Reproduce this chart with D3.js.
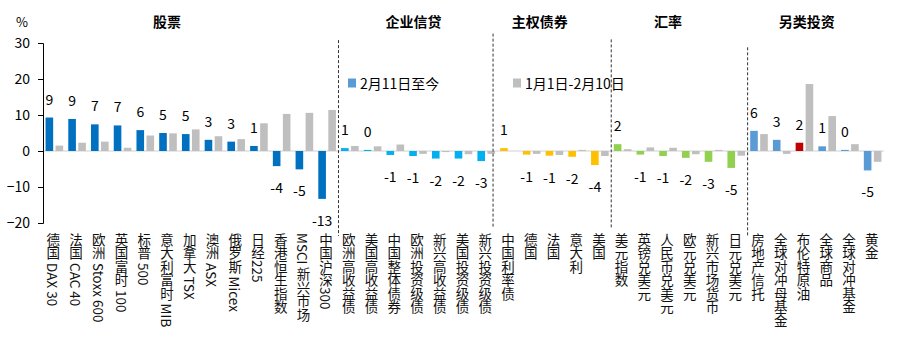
<!DOCTYPE html>
<html><head><meta charset="utf-8">
<script src="https://cdn.jsdelivr.net/npm/d3@7/dist/d3.min.js"></script>
<style>
html,body{margin:0;padding:0;background:#fff;}
svg{display:block;font-family:"Noto Sans CJK SC","Noto Sans",sans-serif;}
</style></head>
<body>
<svg id="chart" width="923" height="356"></svg>
<script>
const categories = ["德国 DAX 30","法国 CAC 40","欧洲 Stoxx 600","英国富时 100","标普 500","意大利富时 MIB","加拿大 TSX","澳洲 ASX","俄罗斯 Micex","日经225","香港恒生指数","MSCI 新兴市场","中国沪深300",
"欧洲高收益债","美国高收益债","中国整体债券","欧洲投资级债","新兴高收益债","美国投资级债","新兴投资级债",
"中国利率债","德国","法国","意大利","美国",
"美元指数","英镑兑美元","人民币兑美元","欧元兑美元","新兴市场货币","日元兑美元",
"房地产信托","全球对冲母基金","布伦特原油","全球商品","全球对冲基金","黄金"];
const seriesNames = ["2月11日至今","1月1日-2月10日"];
const recent = [9.3,8.9,7.4,7.1,5.8,5.0,4.7,3.1,2.6,1.4,-4.2,-5.1,-13.3,
  0.8,0.3,-1.1,-1.4,-2.1,-2.1,-2.8,
  0.8,-1.0,-1.3,-1.6,-3.9,
  1.9,-1.0,-1.4,-1.9,-3.0,-4.7,
  5.6,3.1,2.3,1.3,0.3,-5.4];
const earlier = [1.5,2.3,2.6,0.9,4.3,4.9,6.0,4.1,3.3,7.7,10.3,10.6,11.4,
  1.4,1.3,1.8,-0.8,-0.3,-0.9,-0.8,
  0,-0.8,-1.1,0.3,-1.4,
  0.5,1.0,0.9,-0.9,0.3,-1.3,
  4.7,-0.8,18.6,9.7,1.9,-3.0];
const groupNames = ["股票","企业信贷","主权债券","汇率","另类投资"];
const groupSizes = [13,7,5,6,6];
const groupColors = ["#0070C0","#00B0F0","#FFC000","#92D050","#5B9BD5"];
const yTicks = [-20,-10,0,10,20,30];
const specialColors = {"布伦特原油":"#C00000"};
const grayColor = "#BFBFBF";

// layout (not data)
const M = {left:43, right:884, top:43, bottom:223};
const titleAt = [5.46,16.3,21.85,27.5,33.6];      // in category units
const dividerAt = [13,19.8,25,31];                 // in category units
const dividerTop = [30.8,32.6,31,28.8];            // in y-value units
const dividerBot = [-23.6,-21.4,-21.4,-23.6];

const svg = d3.select("#chart");
const x = d3.scaleBand().domain(categories).range([M.left,M.right]).padding(0);
const xs = d3.scaleBand().domain([0,1]).range([0,x.bandwidth()]).paddingInner(0.24).paddingOuter(0.255);
const y = d3.scaleLinear().domain([-20,30]).range([M.bottom,M.top]);
const xu = d3.scaleLinear().domain([0,categories.length]).range([M.left,M.right]);

// group color per category
const catColor = [];
groupSizes.forEach((n,gi)=>{for(let i=0;i<n;i++)catColor.push(groupColors[gi]);});

// zero line
svg.append("line").attr("x1",M.left).attr("x2",M.right).attr("y1",y(0)).attr("y2",y(0))
  .attr("stroke","#D0D0D0").attr("stroke-width",1);

// bars
const rows = categories.map((c,i)=>({c,i,a:recent[i],b:earlier[i]}));
svg.append("g").selectAll("rect").data(rows).join("rect")
  .attr("x",d=>x(d.c)+xs(1)).attr("width",xs.bandwidth())
  .attr("y",d=>y(Math.max(0,d.b))).attr("height",d=>Math.abs(y(d.b)-y(0)))
  .attr("fill",grayColor);
svg.append("g").selectAll("rect").data(rows).join("rect")
  .attr("x",d=>x(d.c)+xs(0)).attr("width",xs.bandwidth())
  .attr("y",d=>y(Math.max(0,d.a))).attr("height",d=>Math.abs(y(d.a)-y(0)))
  .attr("fill",d=>specialColors[d.c]||catColor[d.i]);

// data labels
svg.append("g").selectAll("text").data(rows).join("text")
  .attr("x",d=>x(d.c)+xs(0)+xs.bandwidth()/2)
  .attr("y",d=>d.a>=0? y(d.a)-19 : y(d.a)+21)
  .attr("text-anchor","middle").attr("dominant-baseline","central")
  .attr("font-size",14).attr("fill","#000")
  .text(d=>{const r=Math.round(Math.abs(d.a))*Math.sign(d.a);return (r===0?0:r).toString();});

// y axis
const ax = svg.append("g").attr("transform",`translate(${M.left},0)`)
  .call(d3.axisLeft(y).tickValues(yTicks).tickSize(5).tickPadding(8));
ax.select(".domain").attr("stroke","#000");
ax.selectAll(".tick line").attr("stroke","#000");
ax.selectAll("text").attr("font-size",14).attr("fill","#000").attr("font-family","'Noto Sans CJK SC',sans-serif");
svg.append("text").attr("x",22).attr("y",21).attr("text-anchor","middle").attr("dominant-baseline","central")
  .attr("font-size",13).text("%");

// category labels (vertical)
svg.append("g").selectAll("text").data(categories).join("text")
  .attr("x",d=>x(d)+x.bandwidth()/2-1).attr("y",233)
  .style("writing-mode","vertical-rl").style("text-orientation","mixed")
  .attr("font-size",13.5).attr("fill","#111")
  .text(d=>d);

// dividers
svg.append("g").selectAll("line").data(dividerAt).join("line")
  .attr("x1",d=>xu(d)).attr("x2",d=>xu(d))
  .attr("y1",(d,i)=>y(dividerTop[i])).attr("y2",(d,i)=>y(dividerBot[i]))
  .attr("stroke","#333").attr("stroke-width",1).attr("stroke-dasharray","3,2");

// group titles
svg.append("g").selectAll("text").data(groupNames).join("text")
  .attr("x",(d,i)=>xu(titleAt[i])).attr("y",21)
  .attr("text-anchor","middle").attr("dominant-baseline","central")
  .attr("font-size",14).attr("font-weight","bold").attr("fill","#000").text(d=>d);

// legend
const legColors = ["#5B9BD5",grayColor];
const legX = [348,513];
const lg = svg.append("g").selectAll("g").data(seriesNames).join("g")
  .attr("transform",(d,i)=>`translate(${legX[i]},83)`);
lg.append("rect").attr("x",0).attr("y",-4.5).attr("width",8).attr("height",9).attr("fill",(d,i)=>legColors[i]);
lg.append("text").attr("x",12).attr("y",0).attr("dominant-baseline","central")
  .attr("font-size",14).attr("fill","#000").text(d=>d);
</script>
</body></html>
